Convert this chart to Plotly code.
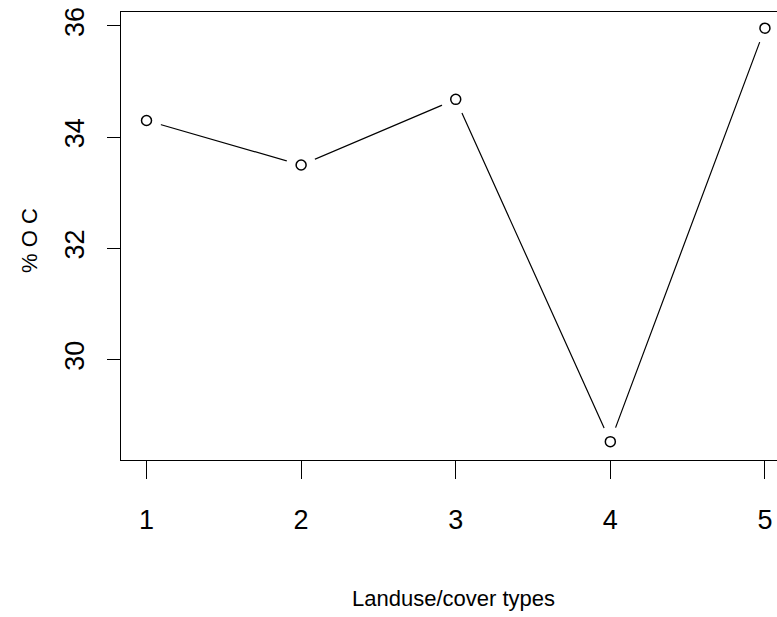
import plotly.graph_objects as go

# Data
landuse_types = [1, 2, 3, 4, 5]
oc_percent = [34.30, 33.50, 34.68, 28.53, 35.96]
x_tick_labels = ["1", "2", "3", "4", "5"]
y_tick_values = [30, 32, 34, 36]

FONT = "Liberation Sans, Arial, Helvetica, sans-serif"

fig = go.Figure()
# connecting line
fig.add_trace(go.Scatter(x=landuse_types, y=oc_percent, mode="lines",
                         line=dict(color="black", width=1.2), hoverinfo="skip"))
# white gaps around points (type="b" look)
fig.add_trace(go.Scatter(x=landuse_types, y=oc_percent, mode="markers",
                         marker=dict(symbol="circle", size=30, color="white", line=dict(width=0)),
                         hoverinfo="skip"))
# open circle points
fig.add_trace(go.Scatter(x=landuse_types, y=oc_percent, mode="markers",
                         marker=dict(symbol="circle-open", size=10, color="black",
                                     line=dict(width=1.5, color="black"))))

fig.update_layout(
    width=777, height=617,
    margin=dict(l=121, r=0, t=12, b=157),
    paper_bgcolor="white", plot_bgcolor="white",
    showlegend=False,
    font=dict(family=FONT, color="black", size=26),
)
fig.update_xaxes(
    range=[0.835, 5.078],
    tickmode="array", tickvals=landuse_types, ticktext=x_tick_labels,
    ticks="outside", ticklen=18, tickwidth=1, tickcolor="black",
    showline=True, linecolor="black", linewidth=1.2, mirror=True,
    showgrid=False, zeroline=False,
    tickfont=dict(family=FONT, size=27, color="black"),
    ticklabelstandoff=17,
)
fig.update_yaxes(
    range=[28.20, 36.25],
    tickmode="array", tickvals=y_tick_values, ticktext=[str(v) for v in y_tick_values],
    ticks="outside", ticklen=13, tickwidth=1, tickcolor="black",
    showline=True, linecolor="black", linewidth=1.2, mirror=False,
    showgrid=False, zeroline=False, tickangle=-90,
    tickfont=dict(family=FONT, size=27, color="black"),
    ticklabelstandoff=12,
)
fig.add_annotation(text="Landuse/cover types", xref="paper", yref="paper",
                   x=(454 - 121) / 656, y=-(598 - 460) / 448, showarrow=False,
                   xanchor="center", yanchor="middle",
                   font=dict(family=FONT, size=22, color="black"))
fig.add_annotation(text="% O C", xref="paper", yref="paper",
                   x=-(121 - 29) / 656, y=(460 - 240) / 448, showarrow=False,
                   xanchor="center", yanchor="middle", textangle=-90,
                   font=dict(family=FONT, size=22, color="black"))

fig.write_html("out.html", config={"displayModeBar": False},
               post_script="document.body.style.margin='0';")
